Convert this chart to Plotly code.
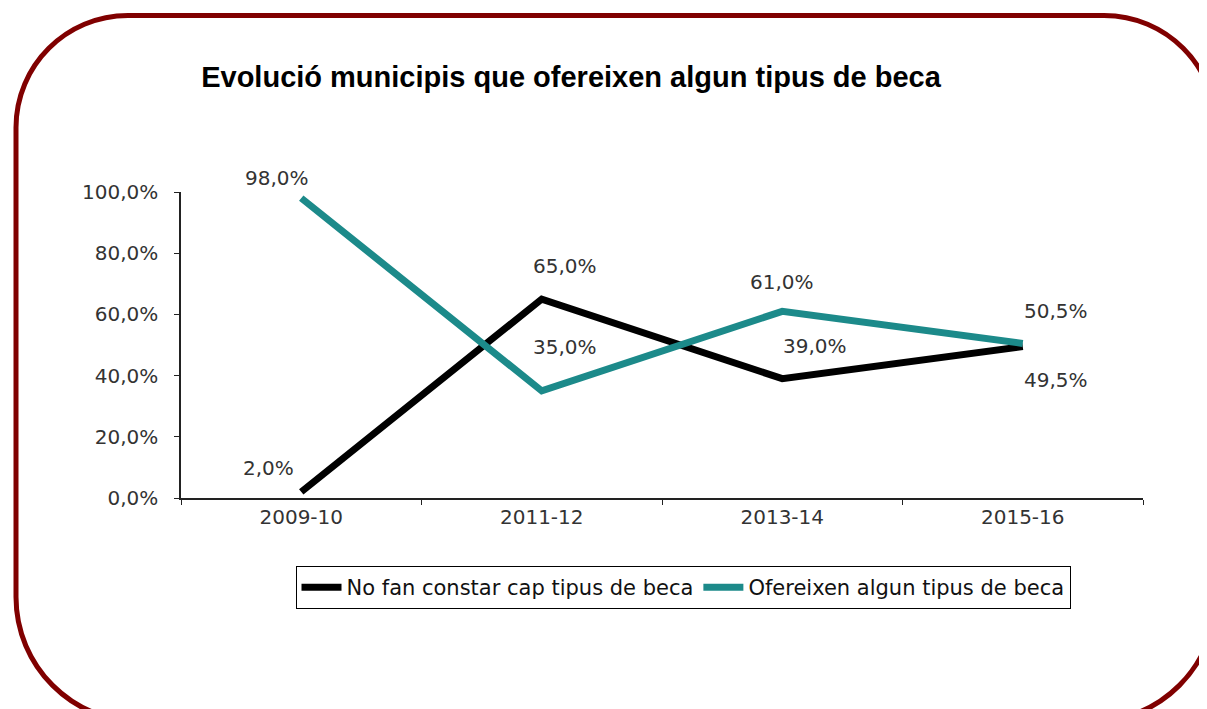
import plotly.graph_objects as go

categories = ["2009-10", "2011-12", "2013-14", "2015-16"]
no_fan = [0.02, 0.65, 0.39, 0.495]
ofereixen = [0.98, 0.35, 0.61, 0.505]
series_names = ["No fan constar cap tipus de beca", "Ofereixen algun tipus de beca"]
title_text = "Evolució municipis que ofereixen algun tipus de beca"

# label offsets (pixels) for each point: (xshift, yshift)
no_fan_offsets = [(-33, 24), (23, 33), (33, 33), (33, -33)]
ofer_offsets = [(-24, 20), (23, 44), (0, 29), (33, 32)]

W, H = 1207, 709
OFF = 8  # page body margin
L, T = 181 - OFF, 192 - OFF
R, B = W - (1143 - OFF), H - (498 - OFF)
pw, ph = W - L - R, H - T - B


def px(x):
    return (x - OFF - L) / pw


def py(y):
    return (H - B - (y - OFF)) / ph


LBL = "DejaVu Sans"

fig = go.Figure()
fig.add_trace(go.Scatter(x=categories, y=no_fan, mode="lines", name=series_names[0],
                         line=dict(color="#000000", width=7)))
fig.add_trace(go.Scatter(x=categories, y=ofereixen, mode="lines", name=series_names[1],
                         line=dict(color="#1C8A8A", width=7)))

for vals, offs in ((no_fan, no_fan_offsets), (ofereixen, ofer_offsets)):
    for c, v, (dx, dy) in zip(categories, vals, offs):
        fig.add_annotation(x=c, y=v, text=f"{v*100:.1f}%".replace(".", ","),
                           showarrow=False, xshift=dx, yshift=dy,
                           font=dict(family=LBL, size=20, color="#333333"))

# rounded border (top and bottom corner radii)
x0, y0, x1, y1 = 16, 15.5, 1216, 722
rt, rb = 112, 125
kt, kb = 0.5523 * rt, 0.5523 * rb
path = (
    f"M {px(x0 + rt)},{py(y0)} L {px(x1 - rt)},{py(y0)} "
    f"C {px(x1 - rt + kt)},{py(y0)} {px(x1)},{py(y0 + rt - kt)} {px(x1)},{py(y0 + rt)} "
    f"L {px(x1)},{py(y1 - rb)} "
    f"C {px(x1)},{py(y1 - rb + kb)} {px(x1 - rb + kb)},{py(y1)} {px(x1 - rb)},{py(y1)} "
    f"L {px(x0 + rb)},{py(y1)} "
    f"C {px(x0 + rb - kb)},{py(y1)} {px(x0)},{py(y1 - rb + kb)} {px(x0)},{py(y1 - rb)} "
    f"L {px(x0)},{py(y0 + rt)} "
    f"C {px(x0)},{py(y0 + rt - kt)} {px(x0 + rt - kt)},{py(y0)} {px(x0 + rt)},{py(y0)} Z"
)
fig.add_shape(type="path", path=path, xref="paper", yref="paper",
              line=dict(color="#800000", width=5), layer="above")

fig.update_layout(
    width=W, height=H,
    margin=dict(l=L, r=R, t=T, b=B),
    paper_bgcolor="white", plot_bgcolor="white",
    separators=",.",
    title=dict(text=f"<b>{title_text}</b>", x=(571 - OFF) / W, xanchor="center",
               y=1 - (77 - OFF) / H, yanchor="middle",
               font=dict(family="Liberation Sans, Arial", size=29, color="#000000")),
    font=dict(family=LBL, size=20, color="#333333"),
    showlegend=True,
    legend=dict(orientation="h", x=px(683), xanchor="center", y=py(566), yanchor="top",
                bordercolor="#000000", borderwidth=1,
                font=dict(family=LBL, size=21, color="#111111"),
                itemwidth=40),
    xaxis=dict(type="category", range=[-0.5, 3.5], showgrid=False, showline=True,
               linecolor="#222222", linewidth=1.5, ticks="outside", ticklen=5,
               tickcolor="#222222", tickson="boundaries", zeroline=False,
               tickfont=dict(family=LBL, size=20, color="#333333")),
    yaxis=dict(range=[0, 1], tickformat=".1%", dtick=0.2, showgrid=False,
               showline=True, linecolor="#222222", linewidth=1.5, ticks="outside",
               ticklen=5, tickcolor="#222222", zeroline=False,
               tickfont=dict(family=LBL, size=20, color="#333333"), ticklabelstandoff=12),
)

fig.write_html("out.html")
